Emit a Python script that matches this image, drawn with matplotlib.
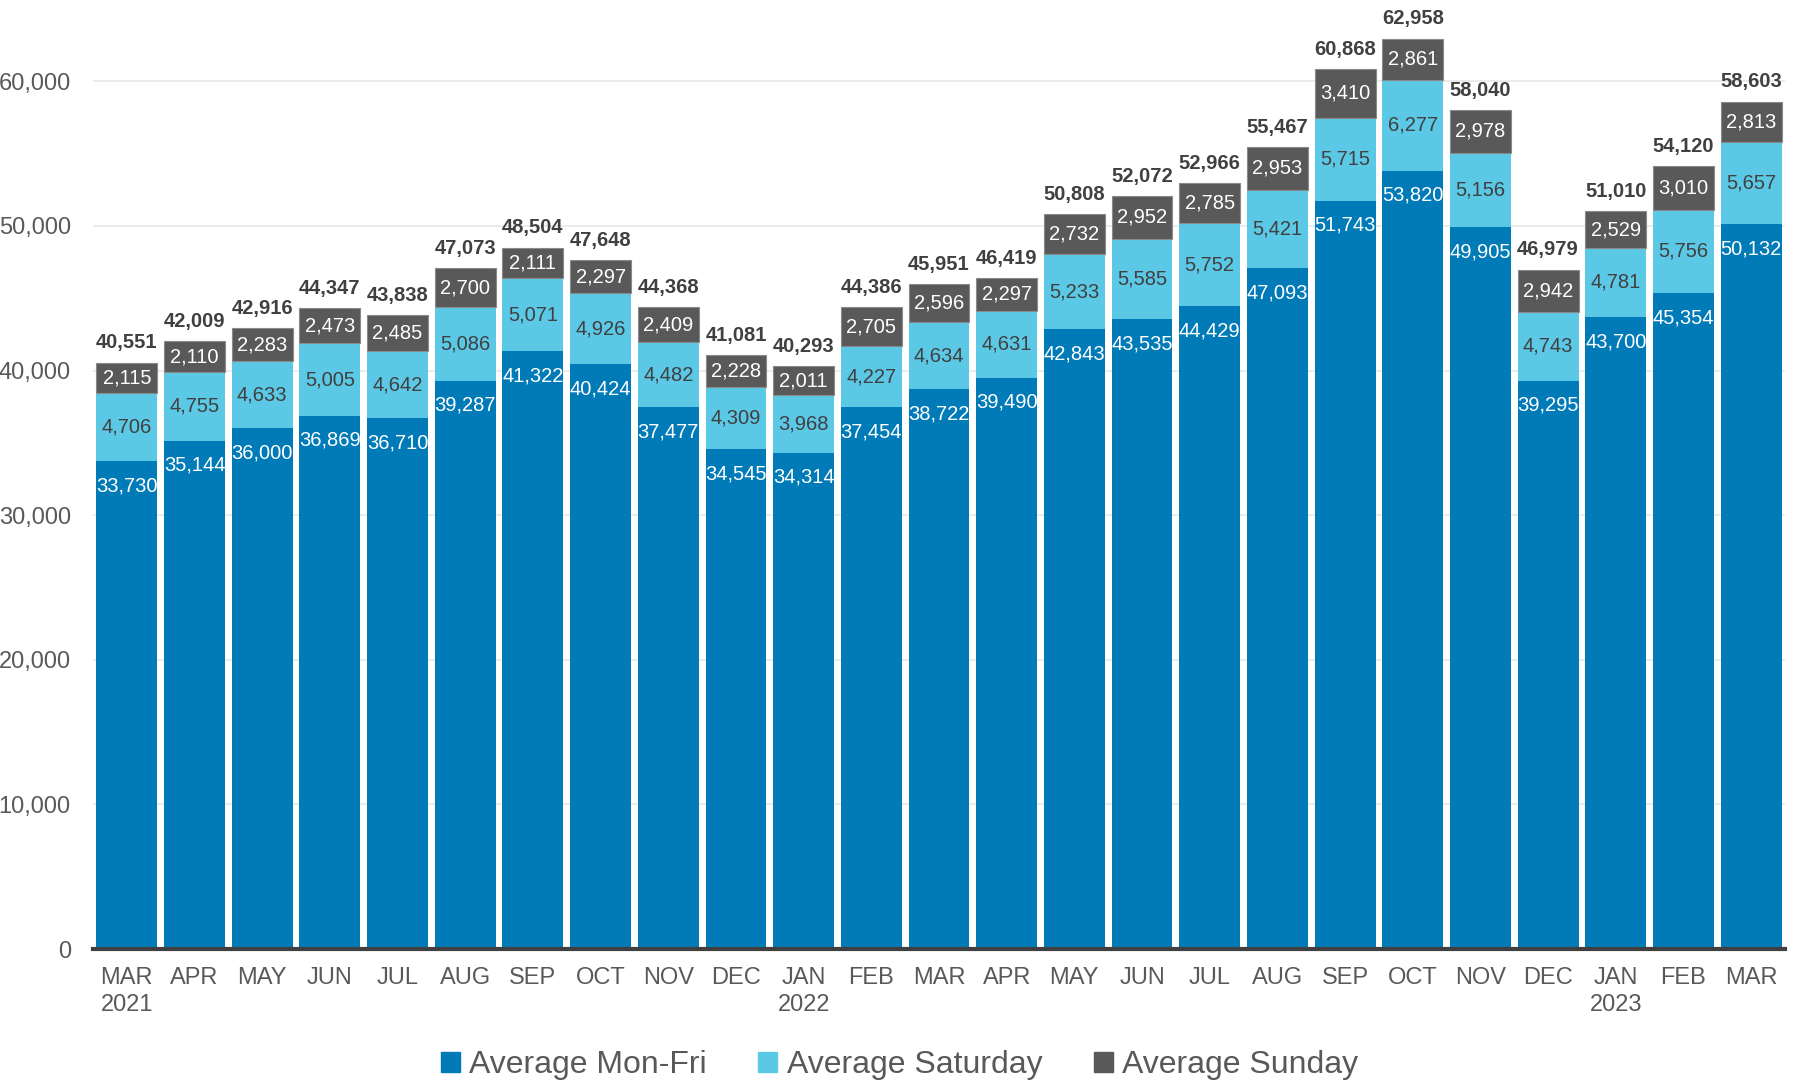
import numpy as np
import matplotlib.pyplot as plt
from matplotlib.patches import Patch

months = ['MAR\n2021', 'APR', 'MAY', 'JUN', 'JUL', 'AUG', 'SEP', 'OCT', 'NOV', 'DEC',
          'JAN\n2022', 'FEB', 'MAR', 'APR', 'MAY', 'JUN', 'JUL', 'AUG', 'SEP', 'OCT',
          'NOV', 'DEC', 'JAN\n2023', 'FEB', 'MAR']
mon_fri = [33730, 35144, 36000, 36869, 36710, 39287, 41322, 40424, 37477, 34545,
           34314, 37454, 38722, 39490, 42843, 43535, 44429, 47093, 51743, 53820,
           49905, 39295, 43700, 45354, 50132]
saturday = [4706, 4755, 4633, 5005, 4642, 5086, 5071, 4926, 4482, 4309,
            3968, 4227, 4634, 4631, 5233, 5585, 5752, 5421, 5715, 6277,
            5156, 4743, 4781, 5756, 5657]
sunday = [2115, 2110, 2283, 2473, 2485, 2700, 2111, 2297, 2409, 2228,
          2011, 2705, 2596, 2297, 2732, 2952, 2785, 2953, 3410, 2861,
          2978, 2942, 2529, 3010, 2813]
totals = [40551, 42009, 42916, 44347, 43838, 47073, 48504, 47648, 44368, 41081,
          40293, 44386, 45951, 46419, 50808, 52072, 52966, 55467, 60868, 62958,
          58040, 46979, 51010, 54120, 58603]

c_wk = '#007BB8'
c_sat = '#5BC8E6'
c_sun = '#595959'

# narrow font if there is one, else Liberation Sans
plt.rcParams['font.family'] = ['Liberation Sans Narrow', 'Liberation Sans', 'DejaVu Sans']

fig = plt.figure(figsize=(17.99, 10.88), dpi=100)
ax = fig.add_axes([93 / 1799, 1 - 949 / 1088, (1785 - 93) / 1799, (949 - 9) / 1088])

x = np.arange(len(months))
wk = np.array(mon_fri)
sa = np.array(saturday)
su = np.array(sunday)
w = 0.9
ax.bar(x, wk, w, color=c_wk, zorder=2)
ax.bar(x, sa, w, bottom=wk, color=c_sat, zorder=2)
ax.bar(x, su, w, bottom=wk + sa, color=c_sun, edgecolor='#8a8a8a', linewidth=0.8, zorder=2)

for i in range(len(x)):
    ax.text(x[i], wk[i] - 1700, f'{wk[i]:,}', ha='center', va='center', color='white', fontsize=14.5)
    ax.text(x[i], wk[i] + sa[i] / 2, f'{sa[i]:,}', ha='center', va='center', color='#404040', fontsize=14.5)
    ax.text(x[i], wk[i] + sa[i] + su[i] / 2, f'{su[i]:,}', ha='center', va='center', color='white', fontsize=14.5)
    ax.text(x[i], totals[i] + 700, f'{totals[i]:,}', ha='center', va='bottom', color='#404040',
            fontsize=14.5, fontweight='bold')

ax.set_xlim(-0.5, len(x) - 0.5)
ax.set_ylim(0, 65000)
ax.set_yticks(np.arange(0, 60001, 10000))
ax.set_yticklabels([f'{v:,}' for v in range(0, 60001, 10000)])
ax.set_xticks(x)
ax.set_xticklabels(months, linespacing=1.3)
ax.tick_params(axis='both', length=0, labelsize=17, colors='#595959')
ax.tick_params(axis='x', pad=13)
ax.tick_params(axis='y', pad=16)
ax.yaxis.grid(True, color='#E8E8E8', linewidth=1.2, zorder=0)
ax.set_axisbelow(True)
for s in ['top', 'right', 'left']:
    ax.spines[s].set_visible(False)
ax.spines['bottom'].set_color('#404040')
ax.spines['bottom'].set_linewidth(3)
ax.spines['bottom'].set_zorder(3)

handles = [Patch(color=c_wk), Patch(color=c_sat), Patch(color=c_sun)]
fig.legend(handles, ['Average Mon-Fri', 'Average Saturday', 'Average Sunday'],
           loc='center', bbox_to_anchor=(0.5, 1 - 1065 / 1088), ncol=3, frameon=False,
           fontsize=23, labelcolor='#595959', handlelength=0.6, handleheight=0.6,
           handletextpad=0.3, columnspacing=1.6)

fig.savefig('out.png', dpi=100)
